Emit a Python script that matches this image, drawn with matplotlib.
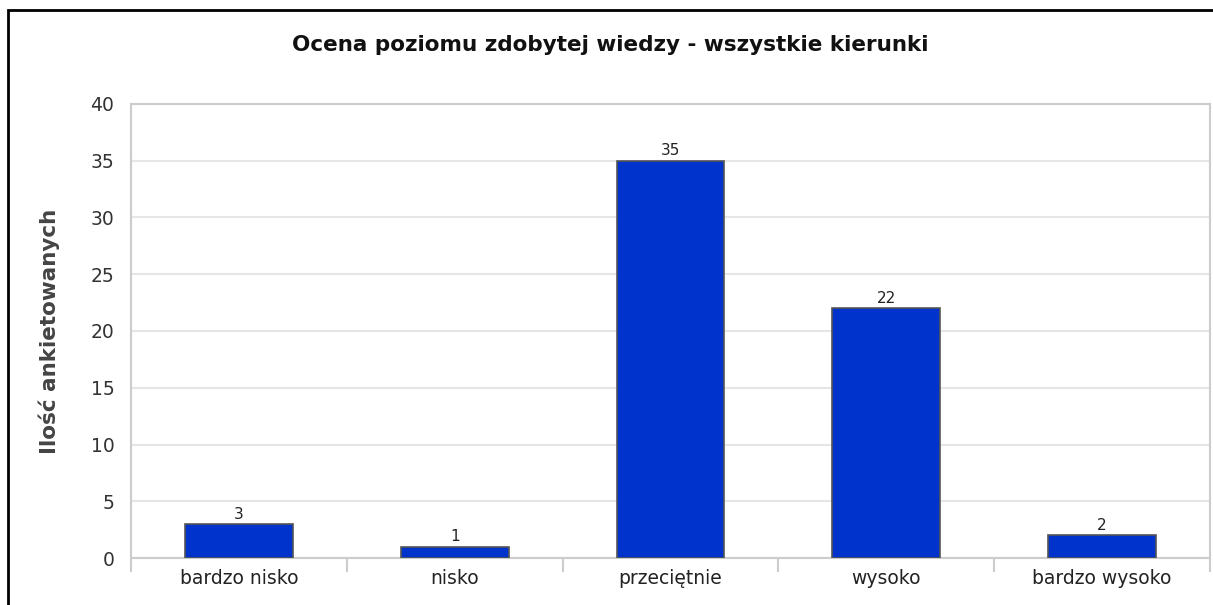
import matplotlib
matplotlib.use("Agg")
import matplotlib.pyplot as plt
from matplotlib.patches import Rectangle
import numpy as np

categories = ["bardzo nisko", "nisko", "przeciętnie", "wysoko", "bardzo wysoko"]
values = [3, 1, 35, 22, 2]
yticks = [0, 5, 10, 15, 20, 25, 30, 35, 40]
title = "Ocena poziomu zdobytej wiedzy - wszystkie kierunki"
ylabel = "Ilość ankietowanych"

plt.rcParams['font.family'] = ['DejaVu Sans']

W, H = 1213, 605
fig = plt.figure(figsize=(W / 100, H / 100), dpi=100)
fig.patch.set_facecolor("white")

left, right, top, bottom = 131, 1210, 104, 558
ax = fig.add_axes([left / W, 1 - bottom / H, (right - left) / W, (bottom - top) / H])

x = np.arange(len(categories))
bars = ax.bar(x, values, width=0.5, color="#0033cc", edgecolor="#555555", linewidth=1.2, zorder=3)
for xi, v in zip(x, values):
    ax.text(xi, v + 0.2, str(v), ha="center", va="bottom", fontsize=11, color="#222222", zorder=4)

ax.set_xlim(-0.5, len(categories) - 0.5)
ax.set_ylim(0, 40)
ax.set_yticks(yticks)
ax.set_yticklabels([str(t) for t in yticks], fontsize=13.5, color="#333333")
ax.yaxis.grid(True, color="#e6e6e6", linewidth=1.5, zorder=0)
ax.tick_params(axis="y", length=0, pad=12)

ax.set_xticks(x)
ax.set_xticklabels(categories, fontsize=13.5, color="#222222")
ax.tick_params(axis="x", which="major", length=0, pad=8)
ax.set_xticks(np.arange(-0.5, len(categories)), minor=True)
ax.tick_params(axis="x", which="minor", length=10, width=1.5, color="#cccccc")

for s in ax.spines.values():
    s.set_color("#cccccc")
    s.set_linewidth(1.5)

ax.set_ylabel(ylabel, fontsize=15.5, fontweight="bold", color="#444444", labelpad=22)

fig.text(610 / W, 1 - 45 / H, title, ha="center", va="center", fontsize=15.5, fontweight="bold", color="#111111")

border = Rectangle((8 / W, -0.1), 2.0, 1.1 - 10 / H, transform=fig.transFigure,
                   fill=False, edgecolor="black", linewidth=2, clip_on=False)
fig.patches.append(border)

fig.savefig("out.png", dpi=100)
